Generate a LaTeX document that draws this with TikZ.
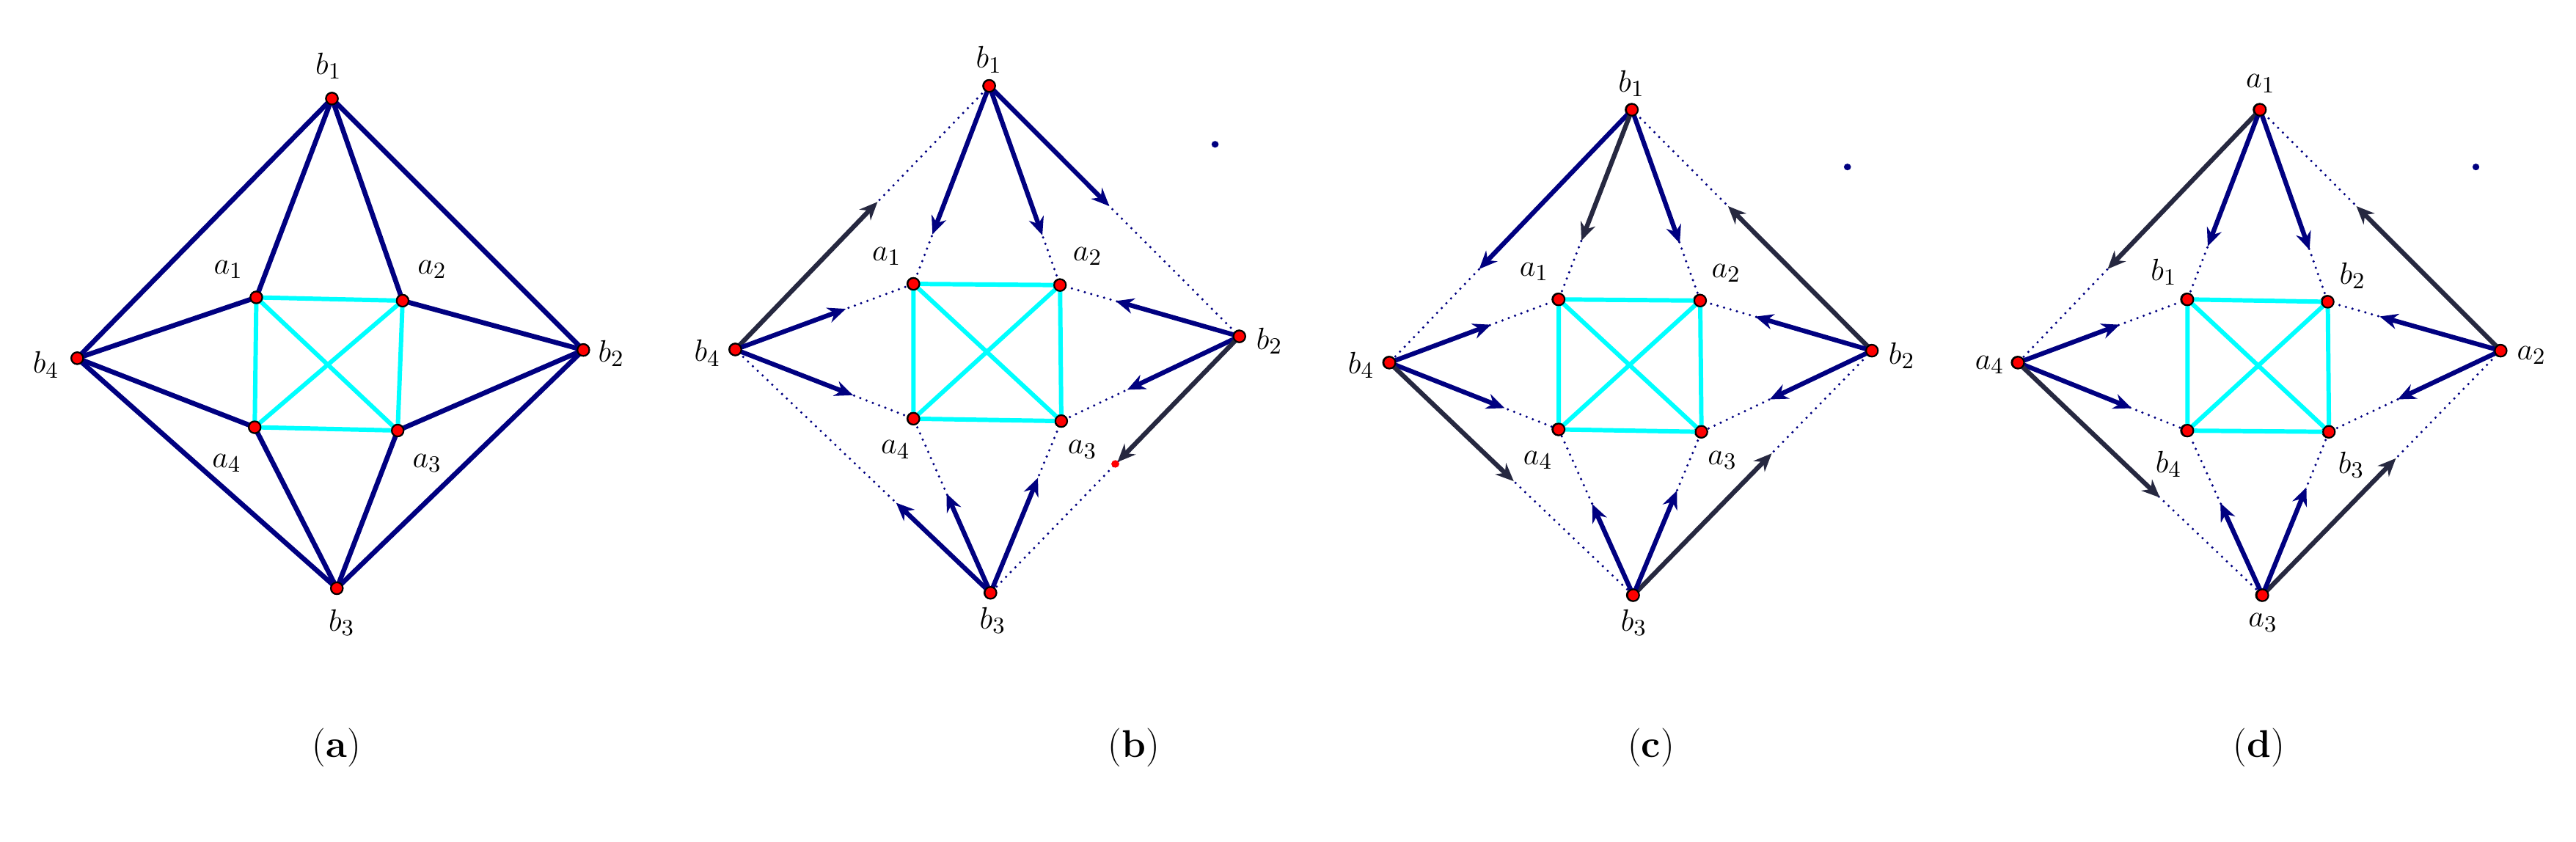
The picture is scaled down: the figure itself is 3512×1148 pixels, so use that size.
\documentclass[tikz,border=0pt]{standalone}
\usetikzlibrary{calc,arrows.meta}
\definecolor{navyc}{RGB}{0,0,128}
\definecolor{darkc}{RGB}{38,40,64}
\definecolor{cyanc}{RGB}{0,255,255}
\tikzset{
  vtx/.style={circle,fill=red,draw=black,line width=0.6pt,inner sep=0pt,minimum size=4.6pt},
  lab/.style={font=\fontsize{13}{15}\selectfont},
  edge/.style={navyc,line width=1.9pt},
  sq/.style={cyanc,line width=1.7pt},
  dotline/.style={navyc,line width=1pt,line cap=round,dash pattern=on 0pt off 2.6pt},
  arr/.style={line width=1.8pt,-{Stealth[length=7pt,width=6pt]}},
  captxt/.style={font=\fontsize{15}{18}\selectfont},
}
\newcommand\myarr[4][navyc]{\draw[dotline] (#2)--(#3);\draw[arr,#1] (#2.center)--($(#2.center)!#4!(#3.center)$);}
\begin{document}
\begin{tikzpicture}[x=0.1mm,y=-0.1mm]
\useasboundingbox (0,0) rectangle (3512,1148);
% ---------- (a)
\begin{scope}[scale=2.24]
\node[vtx] (ab1) at (202,60) {};
\node[vtx] (ab2) at (355,213) {};
\node[vtx] (ab3) at (205,358) {};
\node[vtx] (ab4) at (47,218) {};
\node[vtx] (aa1) at (156,181) {};
\node[vtx] (aa2) at (245,183) {};
\node[vtx] (aa3) at (242,262) {};
\node[vtx] (aa4) at (155,260) {};
\draw[sq] (aa1.center)--(aa2.center)--(aa3.center)--(aa4.center)--cycle (aa1.center)--(aa3.center) (aa2.center)--(aa4.center);
\foreach \p/\q in {ab1/aa1,ab1/aa2,ab1/ab2,ab1/ab4,ab2/aa2,ab2/aa3,ab2/ab3,ab3/aa3,ab3/aa4,ab3/ab4,ab4/aa1,ab4/aa4}
  \draw[edge] (\p.center)--(\q.center);
\foreach \n in {ab1,ab2,ab3,ab4,aa1,aa2,aa3,aa4} \node[vtx] at (\n) {};
\node[lab] (lab1) at (200,40) {$b_1$};
\node[lab] (lab2) at (372,215) {$b_2$};
\node[lab] (lab3) at (208,379) {$b_3$};
\node[lab] (lab4) at (28,222) {$b_4$};
\node[lab] (laa1) at (139,164) {$a_1$};
\node[lab] (laa2) at (263,164) {$a_2$};
\node[lab] (laa3) at (260,282) {$a_3$};
\node[lab] (laa4) at (138,282) {$a_4$};
\end{scope}
\node[captxt] (capa) at (459,1019) {(\textbf{a})};
\node[captxt] (capb) at (1546,1019) {(\textbf{b})};
\node[captxt] (capc) at (2251,1019) {(\textbf{c})};
\node[captxt] (capd) at (3080,1019) {(\textbf{d})};
% ---------- (b)
\begin{scope}[shift={(-635.4,0)},xscale=1.722,yscale=1.626]
\node[vtx] (bb1) at (1152,72) {};
\node[vtx] (bb2) at (1350,282) {};
\node[vtx] (bb3) at (1153,497) {};
\node[vtx] (bb4) at (951,293) {};
\node[vtx] (ba1) at (1092,238) {};
\node[vtx] (ba2) at (1208,239) {};
\node[vtx] (ba3) at (1209,353) {};
\node[vtx] (ba4) at (1092,351) {};
\draw[sq] (ba1.center)--(ba2.center)--(ba3.center)--(ba4.center)--cycle (ba1.center)--(ba3.center) (ba2.center)--(ba4.center);
\myarr{bb1}{ba1}{0.75}
\myarr{bb1}{ba2}{0.75}
\myarr{bb1}{bb2}{0.48}
\myarr[darkc]{bb4}{bb1}{0.56}
\myarr{bb4}{ba1}{0.62}
\myarr{bb4}{ba4}{0.66}
\myarr{bb2}{ba2}{0.69}
\myarr{bb2}{ba3}{0.63}
\myarr[darkc]{bb2}{bb3}{0.49}
\myarr{bb3}{ba4}{0.57}
\myarr{bb3}{ba3}{0.67}
\myarr{bb3}{bb4}{0.37}
\foreach \n in {bb1,bb2,bb3,bb4,ba1,ba2,ba3,ba4} \node[vtx] at (\n) {};
\fill[navyc] (1331,121) circle (0.8pt);
\fill[red] (1252,389) circle (0.9pt);
\node[lab] (lbb1) at (1152,50) {$b_1$};
\node[lab] (lbb2) at (1374,286) {$b_2$};
\node[lab] (lbb3) at (1155,520) {$b_3$};
\node[lab] (lbb4) at (929,296) {$b_4$};
\node[lab] (lba1) at (1071,215) {$a_1$};
\node[lab] (lba2) at (1230,215) {$a_2$};
\node[lab] (lba3) at (1226,377) {$a_3$};
\node[lab] (lba4) at (1078,377) {$a_4$};
\end{scope}
% ---------- (c)
\begin{scope}[shift={(-1285.2,0)},xscale=1.722,yscale=1.626]
\node[vtx] (cb1) at (2038,92) {};
\node[vtx] (cb2) at (2228,294) {};
\node[vtx] (cb3) at (2039,499) {};
\node[vtx] (cb4) at (1846,304) {};
\node[vtx] (ca1) at (1980,251) {};
\node[vtx] (ca2) at (2092,252) {};
\node[vtx] (ca3) at (2093,362) {};
\node[vtx] (ca4) at (1980,360) {};
\draw[sq] (ca1.center)--(ca2.center)--(ca3.center)--(ca4.center)--cycle (ca1.center)--(ca3.center) (ca2.center)--(ca4.center);
\myarr{cb1}{cb4}{0.63}
\myarr[darkc]{cb1}{ca1}{0.69}
\myarr{cb1}{ca2}{0.70}
\myarr[darkc]{cb2}{cb1}{0.60}
\myarr{cb2}{ca2}{0.68}
\myarr{cb2}{ca3}{0.60}
\myarr[darkc]{cb3}{cb2}{0.58}
\myarr{cb3}{ca4}{0.55}
\myarr{cb3}{ca3}{0.64}
\myarr{cb4}{ca1}{0.60}
\myarr{cb4}{ca4}{0.68}
\myarr[darkc]{cb4}{cb3}{0.51}
\foreach \n in {cb1,cb2,cb3,cb4,ca1,ca2,ca3,ca4} \node[vtx] at (\n) {};
\fill[navyc] (2209,140) circle (0.8pt);
\node[lab] (lcb1) at (2038,70) {$b_1$};
\node[lab] (lcb2) at (2252,298) {$b_2$};
\node[lab] (lcb3) at (2040,522) {$b_3$};
\node[lab] (lcb4) at (1824,306) {$b_4$};
\node[lab] (lca1) at (1961,228) {$a_1$};
\node[lab] (lca2) at (2113,229) {$a_2$};
\node[lab] (lca3) at (2110,386) {$a_3$};
\node[lab] (lca4) at (1964,386) {$a_4$};
\end{scope}
% ---------- (d)
\begin{scope}[shift={(-1719.9,0)},xscale=1.649,yscale=1.626]
\node[vtx] (da1) at (2911,92) {};
\node[vtx] (da2) at (3110,294) {};
\node[vtx] (da3) at (2913,499) {};
\node[vtx] (da4) at (2711,304) {};
\node[vtx] (db1) at (2851,251) {};
\node[vtx] (db2) at (2967,253) {};
\node[vtx] (db3) at (2968,362) {};
\node[vtx] (db4) at (2851,361) {};
\draw[sq] (db1.center)--(db2.center)--(db3.center)--(db4.center)--cycle (db1.center)--(db3.center) (db2.center)--(db4.center);
\myarr[darkc]{da1}{da4}{0.63}
\myarr{da1}{db1}{0.72}
\myarr{da1}{db2}{0.73}
\myarr[darkc]{da2}{da1}{0.60}
\myarr{da2}{db2}{0.70}
\myarr{da2}{db3}{0.60}
\myarr[darkc]{da3}{da2}{0.56}
\myarr{da3}{db4}{0.56}
\myarr{da3}{db3}{0.66}
\myarr{da4}{db1}{0.60}
\myarr{da4}{db4}{0.67}
\myarr[darkc]{da4}{da3}{0.58}
\foreach \n in {da1,da2,da3,da4,db1,db2,db3,db4} \node[vtx] at (\n) {};
\fill[navyc] (3090,140) circle (0.8pt);
\node[lab] (lda1) at (2912,70) {$a_1$};
\node[lab] (lda2) at (3136,298) {$a_2$};
\node[lab] (lda3) at (2914,522) {$a_3$};
\node[lab] (lda4) at (2688,306) {$a_4$};
\node[lab] (ldb1) at (2832,228) {$b_1$};
\node[lab] (ldb2) at (2988,231) {$b_2$};
\node[lab] (ldb3) at (2987,390) {$b_3$};
\node[lab] (ldb4) at (2836,389) {$b_4$};
\end{scope}
\end{tikzpicture}
\end{document}
